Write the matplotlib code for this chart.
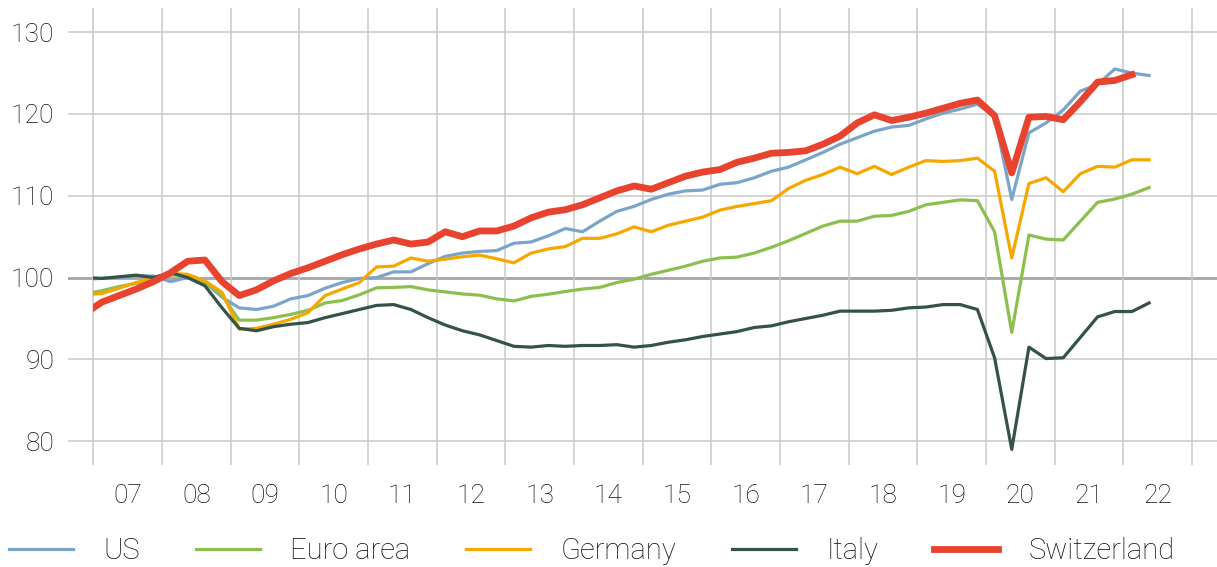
import numpy as np
import matplotlib.pyplot as plt
from matplotlib.patches import Rectangle

plt.rcParams['font.family'] = ['Roboto', 'DejaVu Sans']
plt.rcParams['font.weight'] = 'light'

# quarterly index values, 2006Q4 .. 2022Q2 (2006Q4 only feeds the clipped left edge)
quarters = ['2006Q4'] + [f'{y}Q{q}' for y in range(2007, 2023) for q in range(1, 5)][:62]

us = [99.8,
      99.9, 100.0, 100.2, 100.2,
      99.5, 100.0, 99.4, 97.6,
      96.3, 96.1, 96.5, 97.4,
      97.8, 98.7, 99.4, 99.9,
      100.0, 100.7, 100.7, 101.7,
      102.6, 103.0, 103.2, 103.3,
      104.2, 104.35, 105.1, 106.0,
      105.6, 106.9, 108.1, 108.7,
      109.55, 110.2, 110.6, 110.7,
      111.4, 111.6, 112.2, 113.0,
      113.5, 114.4, 115.3, 116.3,
      117.1, 117.9, 118.4, 118.6,
      119.4, 120.1, 120.6, 121.2,
      119.7, 109.55, 117.7, 118.9,
      120.5, 122.8, 123.6, 125.5,
      125.0, 124.7]

euro_area = [98.0,
             98.4, 98.9, 99.3, 99.8,
             100.3, 100.3, 99.4, 97.8,
             94.8, 94.8, 95.1, 95.5,
             96.0, 96.9, 97.2, 97.9,
             98.75, 98.8, 98.9, 98.5,
             98.25, 98.0, 97.85, 97.4,
             97.15, 97.7, 97.97, 98.3,
             98.6, 98.8, 99.4, 99.8,
             100.4, 100.9, 101.4, 102.0,
             102.4, 102.5, 103.0, 103.7,
             104.5, 105.4, 106.3, 106.9,
             106.9, 107.5, 107.6, 108.1,
             108.9, 109.2, 109.5, 109.4,
             105.6, 93.3, 105.2, 104.7,
             104.6, 106.9, 109.2, 109.6,
             110.2, 111.0]

germany = [97.9,
           98.05, 98.7, 99.4, 100.0,
           100.5, 100.4, 99.6, 98.2,
           93.7, 93.8, 94.3, 94.9,
           95.7, 97.8, 98.6, 99.4,
           101.3, 101.4, 102.4, 102.0,
           102.25, 102.55, 102.75, 102.3,
           101.8, 103.0, 103.5, 103.8,
           104.8, 104.8, 105.35, 106.2,
           105.6, 106.4, 106.9, 107.4,
           108.25, 108.7, 109.05, 109.4,
           110.9, 111.9, 112.6, 113.5,
           112.7, 113.6, 112.6, 113.5,
           114.3, 114.2, 114.3, 114.6,
           113.0, 102.4, 111.5, 112.2,
           110.5, 112.7, 113.6, 113.5,
           114.4, 114.4]

italy = [100.0,
         99.9, 100.1, 100.3, 100.0,
         100.6, 100.0, 99.0, 96.3,
         93.8, 93.5, 94.0, 94.3,
         94.5, 95.1, 95.6, 96.1,
         96.6, 96.7, 96.1, 95.1,
         94.2, 93.5, 93.0, 92.3,
         91.6, 91.5, 91.7, 91.6,
         91.7, 91.7, 91.8, 91.5,
         91.7, 92.1, 92.4, 92.8,
         93.1, 93.4, 93.9, 94.1,
         94.6, 95.0, 95.4, 95.9,
         95.9, 95.9, 96.0, 96.3,
         96.4, 96.7, 96.7, 96.1,
         90.2, 79.0, 91.5, 90.1,
         90.2, 92.7, 95.2, 95.85,
         95.85, 96.9]

switzerland = [95.6,
               97.0, 97.8, 98.6, 99.5,
               100.6, 102.0, 102.15, 99.5,
               97.8, 98.5, 99.6, 100.5,
               101.2, 102.0, 102.8, 103.5,
               104.1, 104.6, 104.1, 104.35,
               105.6, 105.0, 105.7, 105.7,
               106.3, 107.3, 108.0, 108.3,
               108.9, 109.75, 110.6, 111.2,
               110.8, 111.6, 112.4, 112.9,
               113.2, 114.1, 114.6, 115.2,
               115.3, 115.5, 116.3, 117.3,
               118.9, 119.9, 119.2, 119.6,
               120.1, 120.7, 121.3, 121.7,
               119.8, 112.8, 119.6, 119.7,
               119.3, 121.5, 123.9, 124.1,
               124.8, np.nan]

year_labels = [f'{y % 100:02d}' for y in range(2007, 2023)]

# quarter midpoints on a year axis
x = np.array([int(q[:4]) + (int(q[-1]) - 0.5) / 4 for q in quarters])

fig = plt.figure(figsize=(12.17, 5.67), dpi=100)
ax = fig.add_axes([0.0559, 0.18, 0.9441, 0.806])

# grid
for v in range(80, 131, 10):
    if v == 100:
        ax.axhline(v, color='#a6a6a6', lw=2.0, zorder=1)
    else:
        ax.axhline(v, color='#c9c9c9', lw=1.1, zorder=1)
for yr in range(2007, 2024):
    ax.axvline(yr, color='#c9c9c9', lw=1.1, zorder=1)

# lines start at the 2007 gridline
clip = Rectangle((2007, 60), 20, 100, transform=ax.transData, visible=False)
ax.add_patch(clip)

lines = [
    ax.plot(x, us, color='#7ba4c9', lw=2.3, label='US', zorder=3),
    ax.plot(x, euro_area, color='#8cbf4e', lw=2.3, label='Euro area', zorder=3),
    ax.plot(x, germany, color='#f6a800', lw=2.3, label='Germany', zorder=3),
    ax.plot(x, italy, color='#34524a', lw=2.3, label='Italy', zorder=3),
    ax.plot(x, switzerland, color='#e8432f', lw=4.9, label='Switzerland', zorder=4),
]
for ln in lines:
    ln[0].set_clip_path(clip)

ax.set_xlim(2006.632, 2023.364)
ax.set_ylim(77.1, 132.96)

ax.set_yticks(range(80, 131, 10))
ax.set_xticks([y + 0.5 for y in range(2007, 2023)])
ax.set_xticklabels(year_labels)
ax.tick_params(length=0, labelsize=19, colors='#111111')
ax.tick_params(axis='y', pad=10)
ax.tick_params(axis='x', pad=14)
for s in ax.spines.values():
    s.set_visible(False)

leg = fig.legend(loc='center left', bbox_to_anchor=(0.0, 1 - 551 / 567), ncol=5,
                 frameon=False, fontsize=21, handlelength=2.2, handletextpad=1.05,
                 columnspacing=1.9, borderpad=0.3, borderaxespad=0)
for t in leg.get_texts():
    t.set_color('#111111')

fig.savefig('out.png', dpi=100)
